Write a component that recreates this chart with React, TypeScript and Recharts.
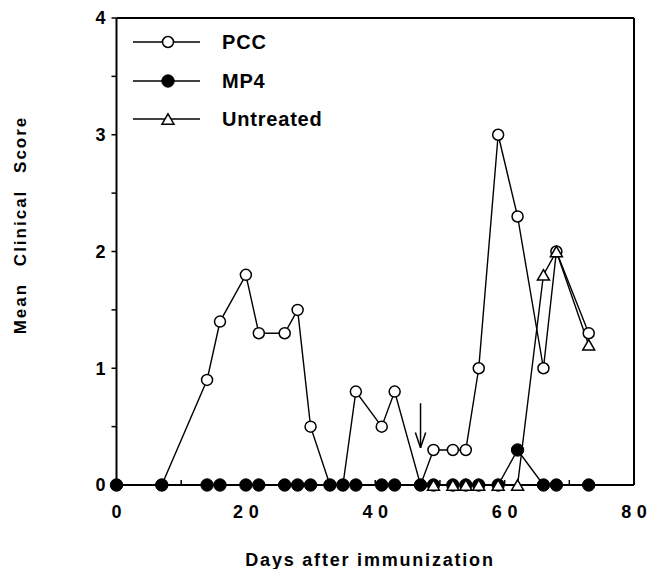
import React from "react";
import { LineChart, Line, XAxis, YAxis, ReferenceLine, Legend } from "recharts";

// days after immunization and mean clinical scores
const DAYS = [0, 7, 14, 16, 20, 22, 26, 28, 30, 33, 35, 37, 41, 43, 47, 49, 52, 54, 56, 59, 62, 66, 68, 73];
const PCC = [0, 0, 0.9, 1.4, 1.8, 1.3, 1.3, 1.5, 0.5, 0, 0, 0.8, 0.5, 0.8, 0, 0.3, 0.3, 0.3, 1.0, 3.0, 2.3, 1.0, 2.0, 1.3];
const MP4 = [0, 0, 0, 0, 0, 0, 0, 0, 0, 0, 0, 0, 0, 0, 0, 0, 0, 0, 0, 0, 0.3, 0, 0, 0];
const UNTREATED = [
  null, null, null, null, null, null, null, null, null, null, null, null, null, null, null,
  0, 0, 0, 0, 0, 0, 1.8, 2.0, 1.2,
];

const X_TICKS = [0, 10, 20, 30, 40, 50, 60, 70, 80];
const Y_TICKS = [0, 0.5, 1, 1.5, 2, 2.5, 3, 3.5, 4];

// treatment arrow (day, top, tip)
const ARROW_DAY = 47;
const ARROW_TOP = 0.7;
const ARROW_TIP = 0.32;

const SERIES = [
  { key: "pcc", name: "PCC", kind: "open" },
  { key: "mp4", name: "MP4", kind: "filled" },
  { key: "untreated", name: "Untreated", kind: "triangle" },
];

const data = DAYS.map((day, i) => ({
  day,
  pcc: PCC[i],
  mp4: MP4[i],
  untreated: UNTREATED[i],
}));

const FONT = '"Liberation Sans", Arial, Helvetica, sans-serif';

function Marker({ kind, cx, cy }: { kind: string; cx: number; cy: number }) {
  if (kind === "triangle") {
    const w = 6;
    const h = 5.2;
    return (
      <polygon
        points={`${cx},${cy - h} ${cx + w},${cy + h} ${cx - w},${cy + h}`}
        fill="#fff"
        stroke="#000"
        strokeWidth={1.5}
      />
    );
  }
  if (kind === "filled") {
    return <circle cx={cx} cy={cy} r={6.2} fill="#000" stroke="#000" strokeWidth={1} />;
  }
  return <circle cx={cx} cy={cy} r={5.5} fill="#fff" stroke="#000" strokeWidth={1.5} />;
}

const makeDot = (kind: string) => (props: any) => {
  const { cx, cy, index, value } = props;
  if (cx == null || cy == null || value == null) return <g key={`${kind}-${index}`} />;
  return (
    <g key={`${kind}-${index}`}>
      <Marker kind={kind} cx={cx} cy={cy} />
    </g>
  );
};

const XTick = (props: any) => {
  const { x, y, payload } = props;
  const v = payload.value;
  // spaced-out digits, no trailing space so "80" stays inside the page
  const chars = String(v).split("");
  return (
    <g>
      <line x1={x} y1={y} x2={x} y2={y - 5} stroke="#000" strokeWidth={1.5} />
      {v % 20 === 0 && (
        <text
          x={x}
          y={y + 27}
          dy="0.35em"
          textAnchor="middle"
          fontFamily={FONT}
          fontWeight={700}
          fontSize={18}
          fill="#000"
        >
          {chars.map((c, i) => (
            <tspan key={i} dx={i === 0 ? 0 : 5.5}>
              {c}
            </tspan>
          ))}
        </text>
      )}
    </g>
  );
};

const YTick = (props: any) => {
  const { x, y, payload } = props;
  const v = payload.value;
  return (
    <g>
      <line x1={x} y1={y} x2={x - 5} y2={y} stroke="#000" strokeWidth={1.5} />
      {Number.isInteger(v) && (
        <text
          x={x - 11}
          y={y}
          dy="0.35em"
          textAnchor="end"
          fontFamily={FONT}
          fontWeight={700}
          fontSize={18}
          fill="#000"
        >
          {v}
        </text>
      )}
    </g>
  );
};

const YLabel = () => (
  <text
    x={26}
    y={225}
    transform="rotate(-90, 26, 225)"
    textAnchor="middle"
    fontFamily={FONT}
    fontWeight={700}
    fontSize={17}
    letterSpacing={2}
    wordSpacing={10}
    fill="#000"
  >
    Mean Clinical Score
  </text>
);

const XLabel = () => (
  <text
    x={370}
    y={566}
    textAnchor="middle"
    fontFamily={FONT}
    fontWeight={700}
    fontSize={18}
    letterSpacing={1.8}
    fill="#000"
  >
    Days after immunization
  </text>
);

const renderLegend = () => (
  <div style={{ fontFamily: FONT, fontWeight: 700, fontSize: 20, letterSpacing: 0.8, color: "#000" }}>
    {SERIES.map((s) => (
      <div key={s.key} style={{ display: "flex", alignItems: "center", height: 38.5 }}>
        <svg width={67} height={16} style={{ display: "block" }}>
          <line x1={0} y1={8} x2={67} y2={8} stroke="#000" strokeWidth={1.3} />
          <Marker kind={s.kind} cx={35} cy={8} />
        </svg>
        <span style={{ marginLeft: 22, lineHeight: 1 }}>{s.name}</span>
      </div>
    ))}
  </div>
);

export default function App() {
  return (
    <>
      <style>{"body{margin:0}"}</style>
      <LineChart width={648} height={569} data={data} margin={{ top: 18, right: 14, left: 0, bottom: 0 }}>
        <XAxis
          dataKey="day"
          type="number"
          domain={[0, 80]}
          ticks={X_TICKS}
          interval={0}
          height={84}
          tickSize={0}
          tickMargin={0}
          tick={<XTick />}
          axisLine={{ stroke: "#000", strokeWidth: 2 }}
          label={<XLabel />}
        />
        <YAxis
          type="number"
          domain={[0, 4]}
          ticks={Y_TICKS}
          interval={0}
          width={116.5}
          tickSize={0}
          tickMargin={0}
          tick={<YTick />}
          axisLine={{ stroke: "#000", strokeWidth: 2 }}
          label={<YLabel />}
        />
        <ReferenceLine y={4} stroke="#000" strokeWidth={2} />
        <ReferenceLine x={80} stroke="#000" strokeWidth={2} />
        <ReferenceLine
          segment={[{ x: ARROW_DAY, y: ARROW_TOP }, { x: ARROW_DAY, y: ARROW_TIP }]}
          stroke="#000"
          strokeWidth={1.5}
        />
        <ReferenceLine
          segment={[{ x: ARROW_DAY - 0.8, y: 0.45 }, { x: ARROW_DAY, y: ARROW_TIP }]}
          stroke="#000"
          strokeWidth={1.5}
        />
        <ReferenceLine
          segment={[{ x: ARROW_DAY + 0.8, y: 0.45 }, { x: ARROW_DAY, y: ARROW_TIP }]}
          stroke="#000"
          strokeWidth={1.5}
        />
        <Line
          dataKey="pcc"
          stroke="#000"
          strokeWidth={1.4}
          dot={makeDot("open")}
          activeDot={false}
          isAnimationActive={false}
        />
        <Line
          dataKey="mp4"
          stroke="#000"
          strokeWidth={1.4}
          dot={makeDot("filled")}
          activeDot={false}
          isAnimationActive={false}
        />
        <Line
          dataKey="untreated"
          stroke="#000"
          strokeWidth={1.4}
          dot={makeDot("triangle")}
          activeDot={false}
          isAnimationActive={false}
        />
        <Legend
          layout="horizontal"
          verticalAlign="middle"
          align="center"
          content={renderLegend}
          wrapperStyle={{ left: 133, top: 23, width: "auto" }}
        />
      </LineChart>
    </>
  );
}
